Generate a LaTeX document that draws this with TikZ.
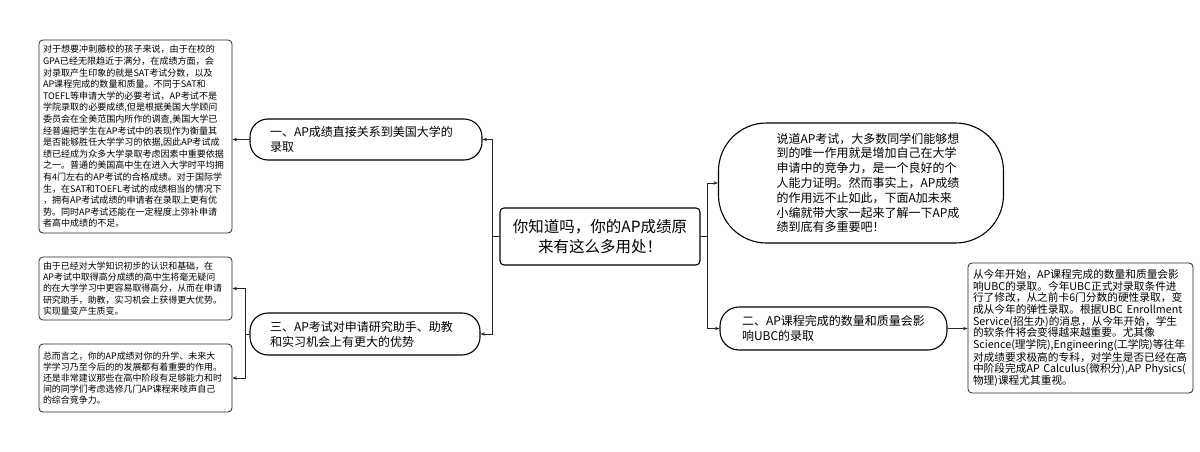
\documentclass[tikz,border=0pt]{standalone}
\usepackage{fontspec}
\setmainfont{Noto Sans CJK SC}
\usetikzlibrary{arrows.meta}
\hyphenpenalty=10000
\exhyphenpenalty=10000
\begin{document}
\begin{tikzpicture}[x=1pt,y=-1pt,
  conn/.style={draw=black!85, line width=0.8pt},
  arr/.style={conn,-{Stealth[length=4.5pt,width=3.4pt]}},
  leaf/.style={draw=black!85, line width=0.8pt, rounded corners=4pt, align=left, inner ysep=0pt, fill=white},
  topic/.style={draw=black, line width=1.1pt, align=left, inner ysep=0pt, fill=white, font=\fontsize{12}{15}\selectfont},
  rootbox/.style={draw=black, line width=1.1pt, rounded corners=4pt, align=center, inner sep=0pt, fill=white, font=\fontsize{15.5}{20}\selectfont}
]
\useasboundingbox (0,0) rectangle (1200,452);

% root
\node[rootbox, minimum width=200pt, minimum height=57pt] (root) at (600,236.5) {你知道吗，你的AP成绩原\\来有这么多用处！};

% left topics
\node[topic, rounded corners=18pt, text width=192pt, inner xsep=20pt, minimum height=41pt] (b1) at (366,139.5) {一、AP成绩直接关系到美国大学的\\录取};
\node[topic, rounded corners=18pt, text width=190pt, inner xsep=20pt, minimum height=42pt] (b3) at (365,334) {三、AP考试对申请研究助手、助教\\和实习机会上有更大的优势};

% right topics
\node[topic, rounded corners=48pt, text width=169pt, inner xsep=58pt, minimum height=120pt, font=\fontsize{12}{14.8}\selectfont] (intro) at (861,183) {说道AP考试，大多数同学们能够想\\到的唯一作用就是增加自己在大学\\申请中的竞争力，是一个良好的个\\人能力证明。然而事实上，AP成绩\\的作用远不止如此，下面A加未来\\小编就带大家一起来了解一下AP成\\绩到底有多重要吧！};
\node[topic, rounded corners=19pt, text width=183pt, inner xsep=22pt, minimum height=43pt] (b2) at (833.5,328.5) {二、AP课程完成的数量和质量会影\\响UBC的录取};

% leaves
\node[leaf, font=\fontsize{9.05}{11.6}\selectfont, text width=185pt, inner xsep=4pt, minimum height=193pt] (l1) at (135.5,136.5) {对于想要冲刺藤校的孩子来说，由于在校的\\GPA已经无限趋近于满分，在成绩方面，会\\对录取产生印象的就是SAT考试分数，以及\\AP课程完成的数量和质量。不同于SAT和\\TOEFL等申请大学的必要考试，AP考试不是\\学院录取的必要成绩,但是根据美国大学顾问\\委员会在全美范围内所作的调查,美国大学已\\经普遍把学生在AP考试中的表现作为衡量其\\是否能够胜任大学学习的依据,因此AP考试成\\绩已经成为众多大学录取考虑因素中重要依据\\之一。普通的美国高中生在进入大学时平均拥\\有4门左右的AP考试的合格成绩。对于国际学\\生，在SAT和TOEFL考试的成绩相当的情况下\\，拥有AP考试成绩的申请者在录取上更有优\\势。同时AP考试还能在一定程度上弥补申请\\者高中成绩的不足。};
\node[leaf, font=\fontsize{8.95}{11.2}\selectfont, text width=185pt, inner xsep=4pt, minimum height=63pt] (l3) at (135.5,288.5) {由于已经对大学知识初步的认识和基础，在\\AP考试中取得高分成绩的高中生将毫无疑问\\的在大学学习中更容易取得高分，从而在申请\\研究助手，助教，实习机会上获得更大优势。\\实现量变产生质变。};
\node[leaf, font=\fontsize{8.95}{11.2}\selectfont, text width=185pt, inner xsep=4pt, minimum height=68pt] (l4) at (135.5,378) {总而言之，你的AP成绩对你的升学、未来大\\学学习乃至今后的的发展都有着重要的作用。\\还是非常建议那些在高中阶段有足够能力和时\\间的同学们考虑选修几门AP课程来吱声自己\\的综合竞争力。};
\node[leaf, font=\fontsize{10.7}{11.7}\selectfont, text width=215pt, inner xsep=5pt, minimum height=130pt] (r1) at (1080.5,328) {从今年开始，AP课程完成的数量和质量会影\\响UBC的录取。今年UBC正式对录取条件进\\行了修改，从之前卡6门分数的硬性录取，变\\成从今年的弹性录取。根据UBC~Enrollment\\Service(招生办)的消息，从今年开始，学生\\的软条件将会变得越来越重要。尤其像\\Science(理学院),Engineering(工学院)等往年\\对成绩要求极高的专科，对学生是否已经在高\\中阶段完成AP~Calculus(微积分),AP~Physics(\\物理)课程尤其重视。};

% connectors
\coordinate (jl) at ([xshift=-7pt]root.west);
\coordinate (jr) at ([xshift=7pt]root.east);
\draw[conn] (root.west) -- (jl);
\draw[arr] (jl) |- (b1.east);
\draw[arr] (jl) |- (b3.east);
\draw[conn] (root.east) -- (jr);
\draw[arr] (jr) |- (intro.west);
\draw[arr] (jr) |- (b2.west);

\draw[arr] (b1.west) -- (b1.west -| l1.east);
\coordinate (j3) at ([xshift=-4pt]b3.west);
\draw[conn] (b3.west) -- (j3);
\draw[arr] (j3) |- (l3.east);
\draw[arr] (j3) |- (l4.east);
\draw[arr] (b2.east) -- (b2.east -| r1.west);
\end{tikzpicture}
\end{document}
